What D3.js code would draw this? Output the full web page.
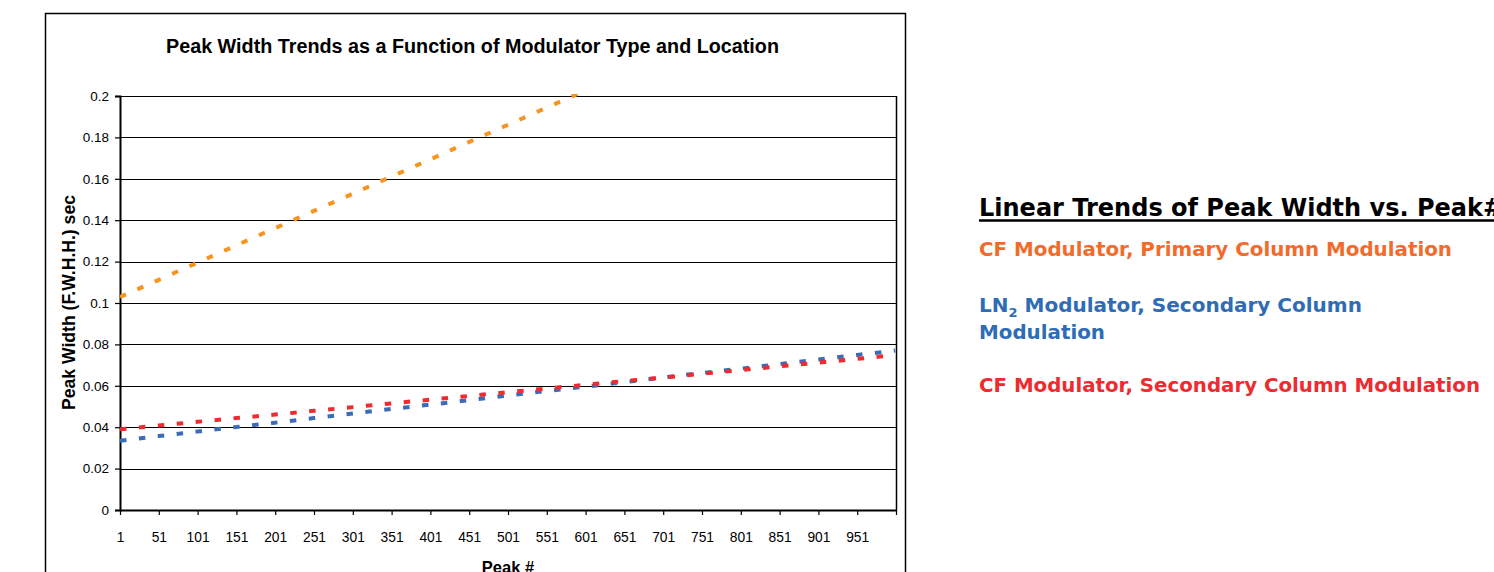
<!DOCTYPE html>
<html>
<head>
<meta charset="utf-8">
<script src="https://cdn.jsdelivr.net/npm/d3@7"></script>
<style>
  html, body { margin: 0; padding: 0; background: #fff; }
  svg { display: block; }
</style>
</head>
<body>
<svg id="chart" width="1494" height="572"></svg>
<script>
// ---- Data ----
const peaks = [1, 51, 101, 151, 201, 251, 301, 351, 401, 451, 501, 551, 601, 651, 701, 751, 801, 851, 901, 951, 1000];
const orangeCFPrimary = [0.1029, 0.1112, 0.1195, 0.1279, 0.1362, 0.1445, 0.1528, 0.1611, 0.1694, 0.1778, 0.1861, 0.1944, 0.2027, 0.2110, 0.2193, 0.2277, 0.2360, 0.2443, 0.2526, 0.2609, 0.2691];
const blueLN2Secondary = [0.0335, 0.0357, 0.0379, 0.0401, 0.0422, 0.0444, 0.0466, 0.0488, 0.0509, 0.0531, 0.0553, 0.0575, 0.0596, 0.0618, 0.0640, 0.0662, 0.0683, 0.0705, 0.0727, 0.0749, 0.0770];
const redCFSecondary = [0.0390, 0.0408, 0.0426, 0.0444, 0.0461, 0.0479, 0.0497, 0.0515, 0.0533, 0.0551, 0.0569, 0.0587, 0.0605, 0.0623, 0.0640, 0.0658, 0.0676, 0.0694, 0.0712, 0.0730, 0.0748];
const xTickValues = [1, 51, 101, 151, 201, 251, 301, 351, 401, 451, 501, 551, 601, 651, 701, 751, 801, 851, 901, 951, 1001];
const xTickLabels = ["1", "51", "101", "151", "201", "251", "301", "351", "401", "451", "501", "551", "601", "651", "701", "751", "801", "851", "901", "951", ""];
const yTickValues = [0, 0.02, 0.04, 0.06, 0.08, 0.1, 0.12, 0.14, 0.16, 0.18, 0.2];
const yTickLabels = ["0", "0.02", "0.04", "0.06", "0.08", "0.1", "0.12", "0.14", "0.16", "0.18", "0.2"];
const chartTitle = "Peak Width Trends as a Function of Modulator Type and Location";
const xTitle = "Peak #";
const yTitle = "Peak Width (F.W.H.H.) sec";
const legendTitle = "Linear Trends of Peak Width vs. Peak#";

const svg = d3.select("#chart");
const plot = { left: 120, right: 896, top: 96, bottom: 510 };

const x = d3.scaleLinear().domain([1, 1001]).range([plot.left, plot.right]);
const y = d3.scaleLinear().domain([0, 0.2]).range([plot.bottom, plot.top]);

// outer chart border
svg.append("rect")
  .attr("x", 45.5).attr("y", 13.5)
  .attr("width", 860).attr("height", 600)
  .attr("fill", "none").attr("stroke", "#000").attr("stroke-width", 1.5);

// title
svg.append("text")
  .attr("x", 472.5).attr("y", 53)
  .attr("text-anchor", "middle")
  .attr("font-family", "Liberation Sans, Arial, sans-serif")
  .attr("font-weight", "bold").attr("font-size", 20)
  .attr("textLength", 613).attr("lengthAdjust", "spacingAndGlyphs")
  .text(chartTitle);

// gridlines
svg.append("g")
  .selectAll("line")
  .data(yTickValues)
  .join("line")
  .attr("x1", plot.left).attr("x2", plot.right)
  .attr("y1", d => Math.round(y(d)) + 0.5).attr("y2", d => Math.round(y(d)) + 0.5)
  .attr("stroke", "#000").attr("stroke-width", 1.2);

// right plot edge
svg.append("line")
  .attr("x1", plot.right + 0.5).attr("x2", plot.right + 0.5)
  .attr("y1", plot.top).attr("y2", plot.bottom)
  .attr("stroke", "#000").attr("stroke-width", 1.5);

// y axis
const yAxis = d3.axisLeft(y)
  .tickValues(yTickValues)
  .tickFormat((d, i) => yTickLabels[i])
  .tickSize(5).tickPadding(6);
const gy = svg.append("g")
  .attr("transform", `translate(${plot.left},0)`)
  .call(yAxis);
gy.select(".domain").attr("stroke", "#000").attr("stroke-width", 2);
gy.selectAll(".tick line").attr("stroke", "#000").attr("stroke-width", 1.2);
gy.selectAll(".tick text")
  .attr("font-family", "Liberation Sans, Arial, sans-serif")
  .attr("font-size", 13.5).attr("fill", "#000");

// x axis
const xAxis = d3.axisBottom(x)
  .tickValues(xTickValues)
  .tickFormat((d, i) => xTickLabels[i])
  .tickSize(5).tickSizeOuter(0).tickPadding(16);
const gx = svg.append("g")
  .attr("transform", `translate(0,${plot.bottom})`)
  .call(xAxis);
gx.select(".domain").attr("stroke", "#000").attr("stroke-width", 2);
gx.selectAll(".tick line").attr("stroke", "#000").attr("stroke-width", 1.2);
gx.selectAll(".tick text")
  .attr("font-family", "Liberation Sans, Arial, sans-serif")
  .attr("font-size", 15).attr("fill", "#000")
  .attr("transform", "scale(0.92,1)");

// axis titles
svg.append("text")
  .attr("transform", `translate(75,302.5) rotate(-90)`)
  .attr("text-anchor", "middle")
  .attr("font-family", "Liberation Sans, Arial, sans-serif")
  .attr("font-weight", "bold").attr("font-size", 17.5)
  .attr("textLength", 215).attr("lengthAdjust", "spacingAndGlyphs")
  .text(yTitle);
svg.append("text")
  .attr("x", 508).attr("y", 573)
  .attr("text-anchor", "middle")
  .attr("font-family", "Liberation Sans, Arial, sans-serif")
  .attr("font-weight", "bold").attr("font-size", 16.5)
  .text(xTitle);

// clip
svg.append("clipPath").attr("id", "plotclip")
  .append("rect")
  .attr("x", plot.left).attr("y", plot.top - 2)
  .attr("width", plot.right - plot.left + 2).attr("height", plot.bottom - plot.top + 2);

const line = d3.line().x(d => x(d[0])).y(d => y(d[1]));
const series = [
  { values: blueLN2Secondary, color: "#3b6cb7" },
  { values: redCFSecondary, color: "#ee2b2f" },
  { values: orangeCFPrimary, color: "#f7941d" }
];
const gLines = svg.append("g").attr("clip-path", "url(#plotclip)");
series.forEach(s => {
  gLines.append("path")
    .datum(peaks.map((p, i) => [p, s.values[i]]))
    .attr("d", line)
    .attr("fill", "none")
    .attr("stroke", s.color)
    .attr("stroke-width", 4)
    .attr("stroke-dasharray", "6.5,12.5");
});

// right-side legend text
const lg = svg.append("g")
  .attr("font-family", "DejaVu Sans, sans-serif")
  .attr("font-weight", "bold");
lg.append("text")
  .attr("x", 979).attr("y", 216)
  .attr("font-size", 24).attr("fill", "#000")
  .text(legendTitle);
lg.append("line")
  .attr("x1", 979).attr("x2", 1494)
  .attr("y1", 220.5).attr("y2", 220.5)
  .attr("stroke", "#000").attr("stroke-width", 2.5);
lg.append("text")
  .attr("x", 979).attr("y", 256)
  .attr("font-size", 20).attr("fill", "#f26b2b")
  .attr("textLength", 473).attr("lengthAdjust", "spacingAndGlyphs")
  .text("CF Modulator, Primary Column Modulation");
const ln2 = lg.append("text")
  .attr("x", 979).attr("y", 312)
  .attr("font-size", 20).attr("fill", "#2f6cb6");
ln2.append("tspan").text("LN");
ln2.append("tspan").attr("font-size", 13).attr("dy", 5).text("2");
ln2.append("tspan").attr("dy", -5).text(" Modulator, Secondary Column");
lg.append("text")
  .attr("x", 979).attr("y", 339)
  .attr("font-size", 20).attr("fill", "#2f6cb6")
  .attr("textLength", 126).attr("lengthAdjust", "spacingAndGlyphs")
  .text("Modulation");
lg.append("text")
  .attr("x", 979).attr("y", 392)
  .attr("font-size", 20).attr("fill", "#ee2b2f")
  .attr("textLength", 501).attr("lengthAdjust", "spacingAndGlyphs")
  .text("CF Modulator, Secondary Column Modulation");
</script>
</body>
</html>
